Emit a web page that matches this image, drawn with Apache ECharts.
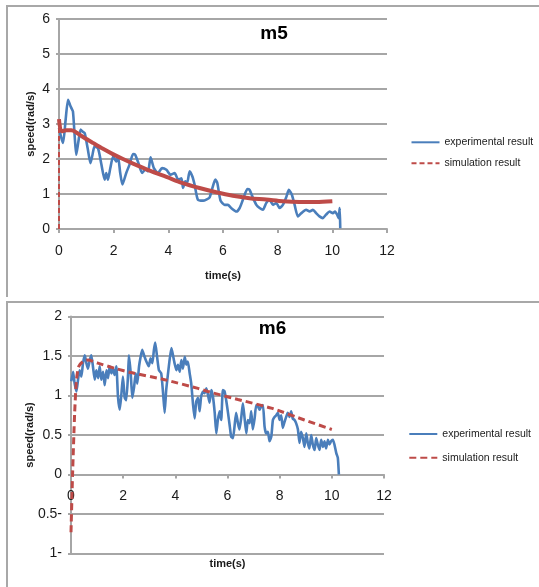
<!DOCTYPE html>
<html>
<head>
<meta charset="utf-8">
<script src="https://cdn.jsdelivr.net/npm/echarts@6/dist/echarts.min.js"></script>
<style>
  html, body { margin: 0; padding: 0; background: #fff; }
  body { width: 539px; height: 587px; position: relative; overflow: hidden; }
  .panel { position: absolute; left: 0; width: 539px; }
  .frame { position: absolute; left: 6px; width: 700px; border-left: 2px solid #a8a8a8; border-top: 2px solid #a8a8a8; pointer-events: none; }
</style>
</head>
<body>
<div class="frame" style="top:5px;height:290px;"></div>
<div class="frame" style="top:301px;height:400px;"></div>
<div id="m5" class="panel" style="top:0;height:298px;"></div>
<div id="m6" class="panel" style="top:298px;height:289px;"></div>
<script>
// Motor m5: measured speed vs. time, [time (s), speed (rad/s)]
const m5Experimental = [
  [0.00, 2.89], [0.08, 2.62], [0.15, 2.46], [0.24, 3.10], [0.33, 3.69], [0.40, 3.55],
  [0.45, 3.46], [0.51, 3.36], [0.57, 2.70], [0.63, 2.12], [0.71, 2.50], [0.79, 2.84],
  [0.87, 2.78], [0.94, 2.74], [1.05, 2.30], [1.15, 1.88], [1.22, 2.10], [1.30, 2.36],
  [1.43, 2.30], [1.55, 1.85], [1.67, 1.41], [1.73, 1.60], [1.79, 1.41], [1.88, 1.75],
  [1.98, 2.07], [2.10, 1.93], [2.16, 2.07], [2.24, 1.60], [2.32, 1.27], [2.46, 1.60],
  [2.58, 1.84], [2.71, 2.14], [2.79, 2.12], [2.92, 1.85], [3.04, 1.60], [3.16, 1.70],
  [3.26, 1.65], [3.35, 2.05], [3.47, 1.74], [3.62, 1.60], [3.77, 1.74], [3.93, 1.69],
  [4.08, 1.55], [4.23, 1.60], [4.36, 1.41], [4.48, 1.45], [4.54, 1.17], [4.62, 1.36],
  [4.69, 1.32], [4.78, 1.65], [4.88, 1.50], [4.96, 1.27], [5.08, 0.84], [5.27, 0.81],
  [5.39, 0.84], [5.51, 0.90], [5.63, 1.22], [5.72, 1.41], [5.79, 1.32], [5.91, 0.81],
  [6.06, 0.69], [6.18, 0.69], [6.30, 0.60], [6.49, 0.50], [6.61, 0.60], [6.73, 0.84],
  [6.89, 1.14], [6.97, 1.12], [7.09, 0.90], [7.22, 0.69], [7.34, 0.60], [7.46, 0.55],
  [7.58, 0.74], [7.70, 0.84], [7.83, 0.69], [7.95, 0.74], [8.07, 0.60], [8.19, 0.69],
  [8.31, 0.90], [8.41, 1.12], [8.52, 0.98], [8.62, 0.69], [8.74, 0.36], [8.86, 0.45],
  [9.04, 0.55], [9.17, 0.50], [9.29, 0.55], [9.41, 0.45], [9.53, 0.36], [9.65, 0.31],
  [9.77, 0.41], [9.90, 0.50], [10.02, 0.45], [10.10, 0.50], [10.18, 0.40], [10.23, 0.31],
  [10.27, 0.60], [10.29, 0.02]
];
// Motor m5: simulated speed, starting from rest
const m5Simulation = [
  [0, 0], [0, 3.14], [0.09, 2.79], [0.27, 2.82], [0.45, 2.82], [0.63, 2.76], [0.88, 2.63],
  [1.24, 2.46], [1.61, 2.29], [1.97, 2.14], [2.34, 2.00], [2.71, 1.87], [3.32, 1.67],
  [3.93, 1.49], [4.53, 1.31], [5.14, 1.17], [5.75, 1.05], [6.36, 0.95], [6.97, 0.88],
  [7.58, 0.84], [8.19, 0.79], [8.80, 0.77], [9.41, 0.77], [10.0, 0.79]
];

// Motor m6: measured speed vs. time
const m6Experimental = [
  [0.01, 1.18], [0.08, 1.30], [0.14, 1.15], [0.21, 1.05], [0.27, 1.20], [0.33, 1.32],
  [0.40, 1.24], [0.46, 1.41], [0.53, 1.51], [0.59, 1.41], [0.65, 1.34], [0.72, 1.45],
  [0.78, 1.51], [0.84, 1.37], [0.91, 1.20], [0.97, 1.32], [1.04, 1.22], [1.10, 1.37],
  [1.16, 1.20], [1.23, 1.30], [1.29, 1.13], [1.36, 1.32], [1.42, 1.22], [1.48, 1.37],
  [1.55, 1.28], [1.61, 1.34], [1.67, 1.26], [1.74, 1.37], [1.80, 0.99], [1.87, 0.82],
  [1.93, 1.01], [1.99, 1.24], [2.06, 0.97], [2.12, 0.94], [2.19, 1.28], [2.22, 1.51],
  [2.29, 1.28], [2.35, 0.97], [2.42, 1.11], [2.48, 1.28], [2.54, 1.15], [2.61, 1.37],
  [2.67, 1.49], [2.73, 1.58], [2.80, 1.51], [2.89, 1.43], [2.98, 1.37], [3.05, 1.47],
  [3.12, 1.41], [3.18, 1.58], [3.23, 1.67], [3.30, 1.49], [3.37, 1.32], [3.46, 1.28],
  [3.53, 1.03], [3.59, 0.78], [3.65, 1.07], [3.72, 1.28], [3.78, 1.45], [3.85, 1.60],
  [3.91, 1.51], [3.97, 1.41], [4.04, 1.32], [4.10, 1.39], [4.17, 1.30], [4.23, 1.45],
  [4.29, 1.34], [4.36, 1.49], [4.42, 1.39], [4.48, 1.43], [4.55, 1.28], [4.61, 1.15],
  [4.68, 0.88], [4.74, 0.71], [4.80, 0.92], [4.87, 0.97], [4.93, 0.80], [4.99, 0.99],
  [5.06, 1.05], [5.12, 1.03], [5.19, 1.09], [5.25, 1.01], [5.31, 0.91], [5.38, 1.07],
  [5.44, 0.99], [5.51, 0.78], [5.57, 0.52], [5.63, 0.69], [5.70, 0.80], [5.76, 0.69],
  [5.82, 1.07], [5.89, 1.05], [5.95, 0.94], [6.02, 0.78], [6.08, 0.63], [6.14, 0.48],
  [6.21, 0.46], [6.27, 0.61], [6.33, 0.78], [6.40, 0.65], [6.46, 0.57], [6.53, 0.73],
  [6.59, 0.90], [6.65, 0.73], [6.72, 0.52], [6.78, 0.69], [6.85, 0.65], [6.91, 0.80],
  [6.97, 0.57], [7.04, 0.71], [7.10, 0.88], [7.17, 0.86], [7.23, 0.82], [7.29, 0.86],
  [7.36, 0.88], [7.42, 0.61], [7.48, 0.52], [7.55, 0.54], [7.61, 0.42], [7.68, 0.48],
  [7.74, 0.69], [7.81, 0.73], [7.87, 0.75], [7.93, 0.78], [8.00, 0.69], [8.06, 0.75],
  [8.12, 0.59], [8.19, 0.67], [8.25, 0.73], [8.31, 0.78], [8.38, 0.73], [8.44, 0.80],
  [8.50, 0.71], [8.57, 0.69], [8.63, 0.65], [8.70, 0.57], [8.76, 0.40], [8.82, 0.54],
  [8.89, 0.46], [8.95, 0.35], [9.02, 0.52], [9.08, 0.40], [9.14, 0.33], [9.21, 0.50],
  [9.27, 0.38], [9.34, 0.31], [9.40, 0.46], [9.46, 0.38], [9.53, 0.31], [9.59, 0.44],
  [9.66, 0.35], [9.72, 0.42], [9.78, 0.33], [9.85, 0.44], [9.91, 0.38], [9.97, 0.42],
  [10.04, 0.44], [10.10, 0.38], [10.17, 0.27], [10.23, 0.21], [10.27, 0.00]
];
// Motor m6: simulated speed, starting below zero at t = 0
const m6Simulation = [
  [0, -0.73], [0.06, 0], [0.14, 0.78], [0.21, 1.20], [0.30, 1.37], [0.46, 1.43],
  [0.65, 1.45], [1.03, 1.41], [1.67, 1.345], [2.31, 1.29], [3.59, 1.20], [4.87, 1.09],
  [5.25, 1.05], [6.40, 0.95], [7.68, 0.84], [8.95, 0.69], [10.0, 0.57]
];

const timeTicks = { min: 0, max: 12, interval: 2 };
const m5SpeedTicks = { min: 0, max: 6, interval: 1 };
const m6SpeedTicks = { min: -1, max: 2, interval: 0.5 };

const BLUE = '#4a7ebb';
const RED = '#be4b48';
const GRID = '#a6a6a6';
const TEXT = '#1a1a1a';
const FONT = "'Liberation Sans', Arial, sans-serif";

// offset lifts the whole time axis (line, ticks, labels, name) to a given pixel distance above the plot bottom
function timeAxis(nameGap, offset) {
  return {
    type: 'value', min: timeTicks.min, max: timeTicks.max, interval: timeTicks.interval,
    offset: offset,
    name: 'time(s)', nameLocation: 'middle', nameGap: nameGap, nameMoveOverlap: false,
    nameTextStyle: { fontFamily: FONT, fontWeight: 'bold', fontSize: 11, color: TEXT },
    axisLine: { show: true, onZero: false, lineStyle: { color: GRID, width: 2 } },
    axisTick: { show: true, length: 4, lineStyle: { color: GRID, width: 2 } },
    axisLabel: { fontFamily: FONT, fontSize: 14, color: TEXT, margin: 15 },
    splitLine: { show: false }
  };
}

function speedAxis(ticks, nameGap, fmt) {
  return {
    type: 'value', min: ticks.min, max: ticks.max, interval: ticks.interval,
    name: 'speed(rad/s)', nameLocation: 'middle', nameGap: nameGap, nameRotate: 90, nameMoveOverlap: false,
    nameTextStyle: { fontFamily: FONT, fontWeight: 'bold', fontSize: 11, color: TEXT },
    axisLine: { show: true, lineStyle: { color: GRID, width: 2 } },
    axisTick: { show: true, length: 3, lineStyle: { color: GRID, width: 2 } },
    axisLabel: { fontFamily: FONT, fontSize: 14, color: TEXT, margin: 9, formatter: fmt },
    splitLine: { show: true, lineStyle: { color: GRID, width: 2 } }
  };
}

function legend(left, top, gap) {
  return {
    orient: 'vertical', left: left, top: top, padding: 0,
    itemWidth: 28, itemHeight: 12, itemGap: gap,
    itemStyle: { opacity: 0 },
    textStyle: { fontFamily: FONT, fontSize: 10.5, lineHeight: 12, color: TEXT },
    data: ['experimental result', 'simulation result']
  };
}

function titleText(label, x, y) {
  return {
    type: 'text', x: x, y: y,
    style: { text: label, font: "bold 19px 'Liberation Sans', Arial, sans-serif", fill: '#000', align: 'center', verticalAlign: 'middle' }
  };
}

// ---- m5 ----
const c5 = echarts.init(document.getElementById('m5'), null, { renderer: 'canvas' });
c5.setOption({
  animation: false,
  grid: { left: 59, top: 19, width: 328, height: 210, containLabel: false, outerBoundsMode: 'none' },
  xAxis: timeAxis(41, 0),
  yAxis: speedAxis(m5SpeedTicks, 23, v => String(v)),
  legend: legend(410.5, 136.3, 9),
  graphic: [titleText('m5', 274, 33.5)],
  series: [
    { name: 'experimental result', type: 'line', data: m5Experimental, symbol: 'none', smooth: 0.2,
      lineStyle: { color: BLUE, width: 2.6 }, itemStyle: { color: BLUE }, z: 2 },
    { name: 'simulation result', type: 'line', data: m5Simulation, symbol: 'none',
      lineStyle: { color: RED, width: 2, type: [5, 3] }, itemStyle: { color: RED }, z: 3 },
    { name: 'simulation curve', type: 'line', data: m5Simulation.slice(1), symbol: 'none', smooth: 0.3,
      lineStyle: { color: RED, width: 4 }, itemStyle: { color: RED }, z: 4 }
  ]
});

// ---- m6 ----
// the plot spans -1..2, so the zero line sits one third of the plot height (237 px) above the bottom
const c6 = echarts.init(document.getElementById('m6'), null, { renderer: 'canvas' });
c6.setOption({
  animation: false,
  grid: { left: 71, top: 18.5, width: 313, height: 237, containLabel: false, outerBoundsMode: 'none' },
  xAxis: timeAxis(84, -79),
  yAxis: speedAxis(m6SpeedTicks, 36, v => (v < 0 ? String(-v) + '-' : String(v))),
  legend: legend(408.3, 130, 11.7),
  graphic: [titleText('m6', 272.5, 30.3)],
  series: [
    { name: 'experimental result', type: 'line', data: m6Experimental, symbol: 'none', smooth: 0.15,
      lineStyle: { color: BLUE, width: 2.6 }, itemStyle: { color: BLUE }, z: 2 },
    { name: 'simulation result', type: 'line', data: m6Simulation, symbol: 'none', smooth: 0.2,
      lineStyle: { color: RED, width: 3, type: [7, 4] }, itemStyle: { color: RED }, z: 3 }
  ]
});
</script>
</body>
</html>
